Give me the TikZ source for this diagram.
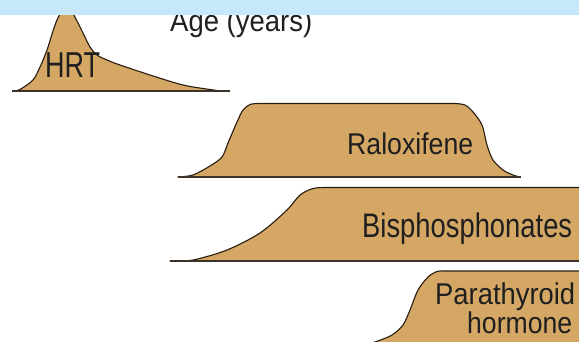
\documentclass[tikz,border=0pt]{standalone}
\usepackage{fontspec}
\setmainfont{Liberation Sans}
\usepackage{graphicx}
\definecolor{humptan}{RGB}{213,167,100}
\definecolor{bandblue}{RGB}{198,232,250}
\definecolor{edgedark}{RGB}{40,28,15}
\definecolor{basedark}{RGB}{60,50,40}
\begin{document}
\begin{tikzpicture}[x=1pt,y=-1pt,
  hump/.style={fill=humptan,draw=edgedark,line width=1.1pt,line join=round},
  ground/.style={draw=basedark,line width=2pt},
  lbl/.style={inner sep=0pt,anchor=base west,text=black!88}]
\useasboundingbox (0,0) rectangle (579,342);
% HRT
\path[hump] plot[smooth] coordinates {(14,91)(20,89.5)(33,80)(40,67)(47,50)(53,31)(57,20)(62,11)(67,9)(72,12)(77,21)(83,33)(90,47)(97,55)(107,60)(120,65)(150,75)(183,85)(210,89.5)(222,91)} -- cycle;
\draw[ground] (12,91) -- (230,91);
% Raloxifene
\path[hump] plot[smooth] coordinates {(178,177)(193,175)(210,166)(222,157)(228,143)(237,122)(243,110)(250,104.5)(258,103.5)} -- (455,103.5) -- plot[smooth] coordinates {(455,103.5)(465,105)(473,112)(482,125)(487,145)(493,160)(503,170)(513,175)(520,177)} -- cycle;
\draw[ground] (178,177) -- (521,177);
% Bisphosphonates
\path[hump] plot[smooth] coordinates {(170,261)(193,260)(227,250)(260,233)(287,210)(300,195)(313,188.5)(325,187.5)} -- (585,187.5) -- (585,261) -- cycle;
\draw[ground] (170,261) -- (585,261);
% Parathyroid hormone
\path[hump] plot[smooth] coordinates {(360,346)(375,342)(392,335)(403,325)(410,310)(418,290)(428,277)(437,271.5)(445,271)} -- (585,271) -- (585,346) -- cycle;
% labels
\node[lbl] (hrt) at (45,78) {\resizebox{55pt}{\height}{\fontsize{36}{36}\selectfont HRT}};
\node[lbl] (age) at (170,32) {\resizebox{142pt}{\height}{\fontsize{30}{30}\selectfont Age (years)}};
\node[lbl] (ral) at (347,155) {\resizebox{126pt}{\height}{\fontsize{30}{30}\selectfont Raloxifene}};
\node[lbl] (bis) at (362,237) {\resizebox{210pt}{\height}{\fontsize{34}{34}\selectfont Bisphosphonates}};
\node[lbl] (para) at (435,305) {\resizebox{140pt}{\height}{\fontsize{30}{30}\selectfont Parathyroid}};
\node[lbl] (horm) at (467,333) {\resizebox{105pt}{\height}{\fontsize{30}{30}\selectfont hormone}};
% top band
\fill[bandblue] (0,0) rectangle (579,15);
\end{tikzpicture}
\end{document}
